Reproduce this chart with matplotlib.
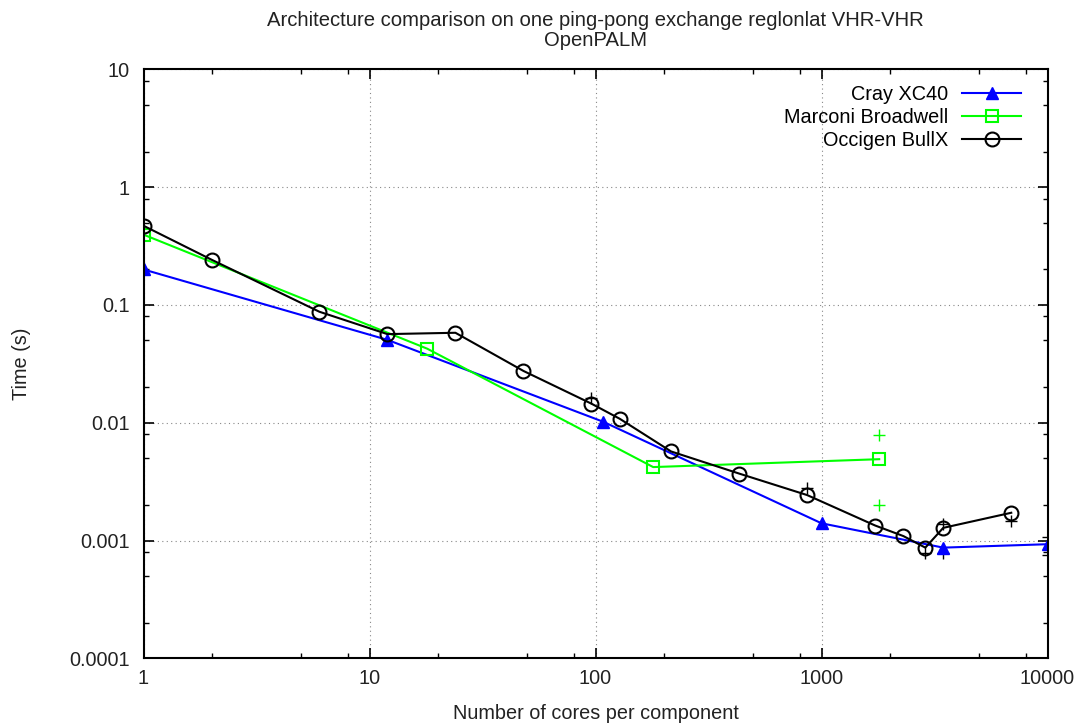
import matplotlib
matplotlib.use("Agg")
import matplotlib.pyplot as plt
import matplotlib.ticker as ticker

plt.rcParams["font.family"] = ["Liberation Sans", "DejaVu Sans"]

# Cray XC40
cray_cores = [1, 12, 108, 1000, 3456, 10000]
cray_time = [0.2, 0.0505, 0.0102, 0.0014, 0.00087, 0.00093]

# Marconi Broadwell
marconi_cores = [1, 18, 180, 1800]
marconi_time = [0.395, 0.0425, 0.0042, 0.0049]

# Occigen BullX
occigen_cores = [1, 2, 6, 12, 24, 48, 96, 128, 216, 432, 864, 1728, 2304, 2880, 3456, 6912]
occigen_time = [0.47, 0.242, 0.0875, 0.0565, 0.058, 0.0275, 0.0145, 0.0108,
                0.0057, 0.0037, 0.00243, 0.00134, 0.00109, 0.00087, 0.00128, 0.00172]

# individual runs (min / max) drawn as "+" points
marconi_runs_cores = [1800, 1800]
marconi_runs_time = [0.0079, 0.002]
other_runs_cores = [96, 864, 2880, 3456, 3456, 6912, 10000, 10000]
other_runs_time = [0.0163, 0.0028, 0.00078, 0.00138, 0.00078, 0.00146, 0.00108, 0.00075]

FS = 14.3

fig = plt.figure(figsize=(10.82, 7.26), dpi=100)
W, H = 1082, 726
ax = fig.add_axes([143.5 / W, 1 - 658.3 / H, (1047.5 - 143.5) / W, (658.3 - 69.3) / H])

ax.plot(marconi_runs_cores, marconi_runs_time, "+", color="#00ff00",
        markersize=8, markeredgewidth=1)
ax.plot(other_runs_cores, other_runs_time, "+", color="black",
        markersize=8, markeredgewidth=1)

ax.plot(cray_cores, cray_time, color="#0000ff", marker="^", markersize=8,
        linewidth=1.5, label="Cray XC40")
ax.plot(marconi_cores, marconi_time, color="#00ff00", marker="s", markersize=9,
        markerfacecolor="none", markeredgewidth=1.5, linewidth=1.5,
        label="Marconi Broadwell")
ax.plot(occigen_cores, occigen_time, color="black", marker="o", markersize=10,
        markerfacecolor="none", markeredgewidth=1.5, linewidth=1.5,
        label="Occigen BullX")

ax.set_xscale("log")
ax.set_yscale("log")
ax.set_xlim(1, 10000)
ax.set_ylim(0.0001, 10)

ax.xaxis.set_major_locator(ticker.LogLocator(base=10, numticks=10))
ax.xaxis.set_minor_locator(ticker.LogLocator(base=10, subs=(2, 5, 8), numticks=10))
ax.yaxis.set_major_locator(ticker.LogLocator(base=10, numticks=10))
ax.yaxis.set_minor_locator(ticker.LogLocator(base=10, subs=(2, 5, 8), numticks=10))
ax.xaxis.set_major_formatter(ticker.FuncFormatter(lambda v, p: f"{v:g}"))
ax.yaxis.set_major_formatter(ticker.FuncFormatter(lambda v, p: f"{v:g}"))
ax.xaxis.set_minor_formatter(ticker.NullFormatter())
ax.yaxis.set_minor_formatter(ticker.NullFormatter())

ax.tick_params(which="both", direction="in", top=True, right=True,
               labelsize=FS, colors="black", labelcolor="#222222")
ax.tick_params(which="major", length=7, width=1.2)
ax.tick_params(which="minor", length=3.6, width=1)
ax.tick_params(axis="x", which="major", pad=8)
ax.tick_params(axis="y", which="major", pad=10)
for s in ax.spines.values():
    s.set_linewidth(1.5)

ax.grid(True, which="major", linestyle=(0, (1, 3)), color="#888888", linewidth=0.8)

ax.set_xlabel("Number of cores per component", fontsize=FS, labelpad=11, color="#222222")
ax.set_ylabel("Time (s)", fontsize=FS, labelpad=27, color="#222222")
ax.set_title("Architecture comparison on one ping-pong exchange reglonlat VHR-VHR\nOpenPALM",
             fontsize=14.6, pad=17, linespacing=1.05, color="#222222")

ax.legend(loc="upper right", bbox_to_anchor=(0.980, 0.987), borderaxespad=0,
          frameon=False, markerfirst=False, fontsize=FS,
          handlelength=3.0, labelspacing=0.2, handletextpad=0.7)

fig.savefig("out.png", dpi=100)
